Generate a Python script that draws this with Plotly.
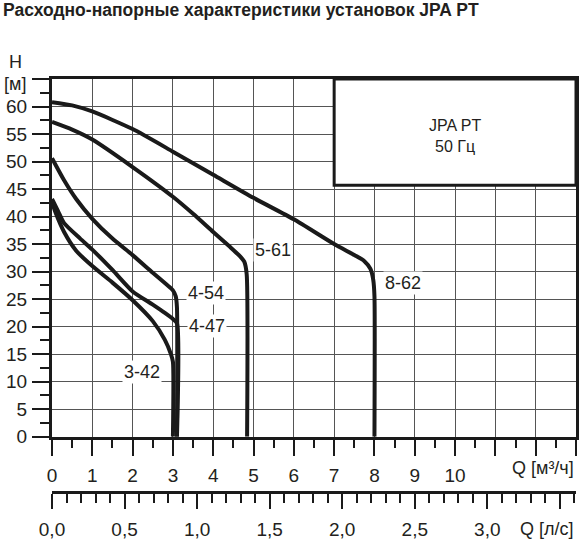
import plotly.graph_objects as go

# pump curves, Q [m3/h] vs H [m]
q_3_42 = [0, 0.1, 0.3, 0.6, 1.0, 1.5, 2.0, 2.5, 2.8, 2.95, 3.0, 3.0]
h_3_42 = [42.6, 40.5, 37.2, 33.8, 31.0, 28.0, 24.8, 21.0, 17.6, 15.0, 13.6, 0]

q_4_47 = [0, 0.15, 0.3, 0.7, 1.0, 1.5, 2.0, 2.5, 2.8, 3.0, 3.1, 3.1]
h_4_47 = [43.2, 41.0, 38.8, 36.0, 34.0, 30.3, 26.4, 24.0, 22.5, 21.4, 20.6, 0]

q_4_54 = [0, 0.3, 0.6, 1.0, 1.5, 2.0, 2.5, 2.85, 3.0, 3.07, 3.1, 3.1]
h_4_54 = [50.6, 46.6, 43.2, 39.6, 36.0, 33.0, 29.8, 27.6, 26.6, 25.5, 23.5, 0]

q_5_61 = [0, 0.5, 1.0, 2.0, 3.0, 3.5, 4.0, 4.4, 4.65, 4.77, 4.83, 4.84]
h_5_61 = [57.2, 55.8, 54.0, 49.0, 43.6, 40.5, 37.2, 34.6, 32.9, 31.8, 29.5, 0]

q_8_62 = [0, 0.5, 1.0, 2.0, 3.0, 4.0, 5.0, 6.0, 7.0, 7.5, 7.75, 7.9, 7.97, 8.0, 8.0]
h_8_62 = [60.8, 60.2, 59.1, 55.9, 51.8, 47.6, 43.4, 39.5, 35.0, 33.0, 31.9, 30.5, 28.5, 25.5, 0]

curves = [
    ("3-42", q_3_42, h_3_42),
    ("4-47", q_4_47, h_4_47),
    ("4-54", q_4_54, h_4_54),
    ("5-61", q_5_61, h_5_61),
    ("8-62", q_8_62, h_8_62),
]

# where the curve names sit (Q, H)
label_pos = {
    "3-42": (2.23, 11.7),
    "4-47": (3.85, 20.2),
    "4-54": (3.82, 26.1),
    "5-61": (5.48, 34.0),
    "8-62": (8.71, 27.9),
}

q_ticks = list(range(0, 14))
q_labels = [str(v) if v <= 10 else "" for v in q_ticks]
h_ticks = list(range(0, 66, 5))
h_labels = [str(v) if v <= 60 else "" for v in h_ticks]
ls_ticks = [0, 0.5, 1.0, 1.5, 2.0, 2.5, 3.0, 3.5]
ls_labels = ["0,0", "0,5", "1,0", "1,5", "2,0", "2,5", "3,0", ""]

title = "Расходно-напорные характеристики установок JPA PT"
box_text = "JPA PT<br>50 Гц"

FONT = "Liberation Sans, Arial, sans-serif"
INK = "#231f20"

fig = go.Figure()
for name, q, h in curves:
    fig.add_trace(go.Scatter(
        x=q, y=h, mode="lines", name=name,
        line=dict(color="#1a1a1a", width=4, shape="spline", smoothing=0.6),
        hoverinfo="skip"))

# dummy trace so the l/s axis is drawn
fig.add_trace(go.Scatter(x=[0], y=[0], xaxis="x2", mode="markers",
                         marker=dict(opacity=0), hoverinfo="skip"))

for name, (qx, hy) in label_pos.items():
    fig.add_annotation(x=qx, y=hy, text=name, showarrow=False,
                       xanchor="center", yanchor="middle",
                       font=dict(size=18, color=INK), bgcolor="white", borderpad=1)

# info box
fig.add_shape(type="rect", x0=7, x1=13, y0=45.7, y1=65, xref="x", yref="y",
              fillcolor="white", line=dict(color="#1a1a1a", width=3), layer="above")
fig.add_annotation(x=10.0, y=54.6, text=box_text, showarrow=False,
                   xanchor="center", yanchor="middle",
                   font=dict(size=16, color=INK), align="center")


def note(x, y, text, size=18, xanchor="center"):
    fig.add_annotation(xref="paper", yref="paper", x=x, y=y, text=text,
                       xanchor=xanchor, yanchor="middle", showarrow=False,
                       font=dict(size=size, color=INK))


# axis titles and header
note(-0.07, 1.042, "H")
note(-0.07, 0.989, "[м]")
note(1.0, 0.059, "Q [м³/ч]", xanchor="right")
note(1.0, -0.089, "Q [л/с]", xanchor="right")
note(-0.098, 1.166, "<b>" + title + "</b>", size=17.5, xanchor="left")

fig.update_layout(
    template="none",
    width=582, height=539,
    margin=dict(l=52, r=6, t=79, b=47),
    paper_bgcolor="white", plot_bgcolor="white",
    showlegend=False,
    font=dict(family=FONT, color=INK, size=19),
    xaxis=dict(
        range=[0, 13], domain=[0, 1], anchor="y",
        tickmode="array", tickvals=q_ticks, ticktext=q_labels,
        ticks="outside", ticklen=16, tickwidth=2, tickcolor="#1a1a1a",
        ticklabelstandoff=4,
        minor=dict(tickmode="linear", tick0=0, dtick=0.5, ticks="outside",
                   ticklen=8, tickwidth=1.5, tickcolor="#1a1a1a", showgrid=False),
        showgrid=True, gridcolor="#555", gridwidth=1.3, zeroline=False,
        showline=True, linecolor="#1a1a1a", linewidth=3, mirror=True,
        automargin=False, fixedrange=True,
    ),
    yaxis=dict(
        range=[0, 65], domain=[0.1339, 1],
        tickmode="array", tickvals=h_ticks, ticktext=h_labels,
        ticks="outside", ticklen=17, tickwidth=2, tickcolor="#1a1a1a",
        ticklabelstandoff=1,
        minor=dict(tickmode="linear", tick0=0, dtick=2.5, ticks="outside",
                   ticklen=9, tickwidth=1.5, tickcolor="#1a1a1a", showgrid=False),
        showgrid=True, gridcolor="#555", gridwidth=1.3, zeroline=False,
        showline=True, linecolor="#1a1a1a", linewidth=3, mirror=True,
        automargin=False, fixedrange=True,
    ),
    xaxis2=dict(
        range=[0, 13 / 3.6], domain=[0, 1], overlaying="x", anchor="free",
        position=0, side="bottom",
        tickmode="array", tickvals=ls_ticks, ticktext=ls_labels,
        ticks="outside", ticklen=15, tickwidth=2, tickcolor="#1a1a1a",
        ticklabelstandoff=4,
        minor=dict(tickmode="linear", tick0=0, dtick=0.1, ticks="outside",
                   ticklen=9, tickwidth=1.5, tickcolor="#1a1a1a", showgrid=False),
        showgrid=False, zeroline=False,
        showline=True, linecolor="#1a1a1a", linewidth=2.5,
        automargin=False, fixedrange=True,
    ),
)

# drop the page's default 8px body margin so the figure fills the window
fig.write_html("out.html", config={"displayModeBar": False},
               post_script="document.body.style.margin='0px';")
